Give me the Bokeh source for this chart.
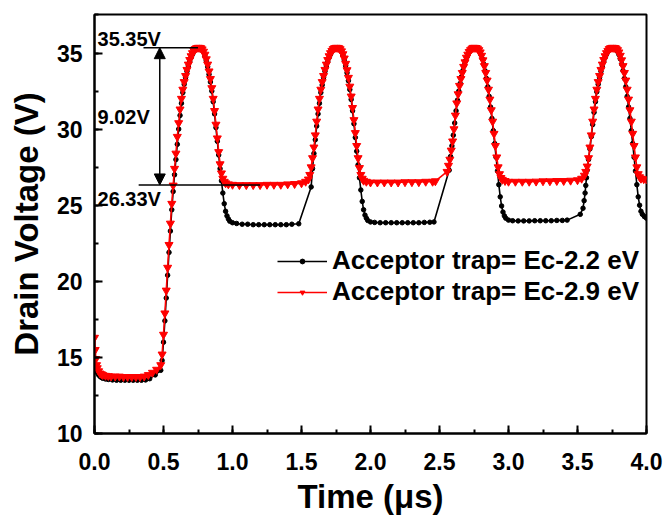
from bokeh.plotting import figure
from bokeh.models import (ColumnDataSource, Legend, LegendItem, SingleIntervalTicker,
                          Range1d, Arrow, NormalHead, PrintfTickFormatter)
from bokeh.core.properties import value
from bokeh.embed import file_html
from bokeh.resources import INLINE

# ---- data: Acceptor trap = Ec-2.9 eV (red) ----
t_red = [0.000, 0.005, 0.010, 0.015, 0.020, 0.030, 0.040, 0.050, 0.060, 0.080, 0.100, 0.120,
         0.150, 0.180, 0.210, 0.240, 0.270, 0.300, 0.330, 0.360, 0.390, 0.420, 0.450, 0.480,
         0.490, 0.500, 0.510, 0.520, 0.530, 0.540, 0.550, 0.560, 0.570, 0.580, 0.590, 0.600,
         0.610, 0.620, 0.630, 0.640, 0.650, 0.660, 0.670, 0.680, 0.690, 0.700, 0.710, 0.720,
         0.730, 0.740, 0.750, 0.760,
         0.770, 0.780, 0.790, 0.800, 0.810, 0.820, 0.830, 0.840, 0.850, 0.860, 0.870, 0.880,
         0.890, 0.900, 0.910, 0.920, 0.930, 0.940, 0.950, 0.970, 1.000,
         1.050, 1.100, 1.150, 1.200, 1.250, 1.300, 1.350, 1.400, 1.450, 1.500, 1.530,
         1.550, 1.560, 1.570, 1.580, 1.590, 1.600, 1.610, 1.620, 1.630, 1.640, 1.650, 1.660,
         1.670, 1.680, 1.690, 1.700, 1.710, 1.720, 1.730, 1.740, 1.750, 1.760,
         1.770, 1.780, 1.790, 1.800, 1.810, 1.820, 1.830, 1.840, 1.850, 1.860, 1.870, 1.880,
         1.890, 1.900, 1.910, 1.920, 1.930, 1.940, 1.950, 1.970, 2.000,
         2.050, 2.100, 2.150, 2.200, 2.250, 2.300, 2.350, 2.400, 2.450, 2.470,
         2.555, 2.565, 2.575, 2.585, 2.595, 2.605, 2.615, 2.625, 2.635, 2.645, 2.655, 2.665,
         2.675, 2.685, 2.695, 2.705, 2.715, 2.725, 2.735, 2.745, 2.755,
         2.765, 2.775, 2.785, 2.795, 2.805, 2.815, 2.825, 2.835, 2.845, 2.855, 2.865, 2.875,
         2.885, 2.895, 2.905, 2.915, 2.925, 2.935, 2.945, 2.955, 2.975, 3.000,
         3.050, 3.100, 3.150, 3.200, 3.250, 3.300, 3.350, 3.400, 3.450, 3.500, 3.530, 3.550,
         3.560, 3.570, 3.580, 3.590, 3.600, 3.610, 3.620, 3.630, 3.640, 3.650, 3.660, 3.670,
         3.680, 3.690, 3.700, 3.710, 3.720, 3.730, 3.740, 3.750, 3.760,
         3.770, 3.780, 3.790, 3.800, 3.810, 3.820, 3.830, 3.840, 3.850, 3.860, 3.870, 3.880,
         3.890, 3.900, 3.910, 3.920, 3.930, 3.940, 3.950, 3.960, 3.980, 4.000]
v_red = [16.3, 15.5, 14.9, 14.5, 14.3, 14.1, 13.95, 13.9, 13.85, 13.8, 13.78, 13.75,
         13.75, 13.75, 13.72, 13.72, 13.72, 13.72, 13.72, 13.75, 13.85, 14.0, 14.2, 14.5,
         15.2, 16.5, 17.9, 19.4, 20.9, 22.4, 23.8, 25.1, 26.3, 27.4, 28.4, 29.5,
         30.4, 31.3, 32.0, 32.6, 33.1, 33.5, 33.9, 34.25, 34.55, 34.8, 35.0, 35.15,
         35.27, 35.33, 35.35, 35.35,
         35.33, 35.25, 35.1, 34.9, 34.6, 34.25, 33.8, 33.3, 32.7, 32.0, 31.2, 30.3,
         29.4, 28.5, 27.7, 27.1, 26.75, 26.55, 26.45, 26.38, 26.35,
         26.33, 26.33, 26.33, 26.33, 26.35, 26.35, 26.35, 26.38, 26.4, 26.45, 26.55,
         26.7, 27.0, 27.5, 28.1, 28.8, 29.6, 30.5, 31.3, 32.0, 32.6, 33.1, 33.5,
         33.9, 34.25, 34.55, 34.8, 35.0, 35.15, 35.27, 35.33, 35.35, 35.35,
         35.33, 35.26, 35.12, 34.93, 34.65, 34.3, 33.88, 33.38, 32.8, 32.15, 31.4, 30.6,
         29.75, 28.9, 28.1, 27.45, 27.0, 26.75, 26.62, 26.55, 26.5,
         26.5, 26.5, 26.5, 26.5, 26.52, 26.52, 26.52, 26.55, 26.55, 26.58,
         27.2, 27.6, 28.0, 28.6, 29.2, 30.0, 30.9, 31.7, 32.3, 32.85, 33.3, 33.7,
         34.1, 34.4, 34.7, 34.9, 35.08, 35.2, 35.3, 35.35, 35.35,
         35.34, 35.3, 35.2, 35.05, 34.83, 34.53, 34.15, 33.7, 33.2, 32.6, 31.95, 31.25,
         30.5, 29.7, 28.9, 28.15, 27.5, 27.05, 26.8, 26.68, 26.6, 26.55,
         26.55, 26.55, 26.55, 26.56, 26.58, 26.58, 26.6, 26.6, 26.62, 26.65, 26.75, 26.95,
         27.2, 27.55, 28.1, 28.8, 29.6, 30.5, 31.3, 32.0, 32.6, 33.1, 33.5, 33.9,
         34.25, 34.55, 34.8, 35.0, 35.15, 35.27, 35.33, 35.35, 35.35,
         35.34, 35.3, 35.2, 35.05, 34.83, 34.53, 34.15, 33.7, 33.2, 32.6, 31.95, 31.25,
         30.5, 29.7, 28.9, 28.15, 27.5, 27.05, 26.85, 26.75, 26.72, 26.7]

# ---- data: Acceptor trap = Ec-2.2 eV (black) ----
t_black = [0.000, 0.005, 0.010, 0.015, 0.020, 0.030, 0.040, 0.050, 0.060, 0.080, 0.100, 0.130,
           0.160, 0.190, 0.220, 0.250, 0.280, 0.310, 0.340, 0.370, 0.400, 0.440, 0.480,
           0.490, 0.500, 0.510, 0.520, 0.530, 0.540, 0.550, 0.560, 0.570, 0.580, 0.590, 0.600,
           0.610, 0.620, 0.630, 0.640, 0.650, 0.660, 0.670, 0.680, 0.690, 0.700, 0.710, 0.720,
           0.730, 0.740, 0.750, 0.760,
           0.770, 0.780, 0.790, 0.800, 0.810, 0.820, 0.830, 0.840, 0.850, 0.860, 0.870, 0.880,
           0.890, 0.900, 0.910, 0.920, 0.930, 0.940, 0.950, 0.960, 0.970, 0.980, 1.000, 1.030,
           1.070, 1.110, 1.150, 1.190, 1.230, 1.270, 1.310, 1.350, 1.390, 1.430, 1.480,
           1.570, 1.580, 1.590, 1.600, 1.610, 1.620, 1.630, 1.640, 1.650, 1.660, 1.670, 1.680,
           1.690, 1.700, 1.710, 1.720, 1.730, 1.740, 1.750, 1.760,
           1.770, 1.780, 1.790, 1.800, 1.810, 1.820, 1.830, 1.840, 1.850, 1.860, 1.870, 1.880,
           1.890, 1.900, 1.910, 1.920, 1.930, 1.940, 1.950, 1.960, 1.970, 1.980, 2.000, 2.030,
           2.070, 2.110, 2.150, 2.190, 2.230, 2.270, 2.310, 2.350, 2.390, 2.430, 2.460,
           2.570, 2.580, 2.590, 2.600, 2.610, 2.620, 2.630, 2.640, 2.650, 2.660, 2.670, 2.680,
           2.690, 2.700, 2.710, 2.720, 2.730, 2.740, 2.750, 2.760,
           2.770, 2.780, 2.790, 2.800, 2.810, 2.820, 2.830, 2.840, 2.850, 2.860, 2.870, 2.880,
           2.890, 2.900, 2.910, 2.920, 2.930, 2.940, 2.950, 2.960, 2.970, 2.980, 3.000, 3.030,
           3.070, 3.110, 3.150, 3.190, 3.230, 3.270, 3.310, 3.350, 3.390, 3.425,
           3.520, 3.540, 3.548, 3.555, 3.560, 3.565, 3.570,
           3.580, 3.590, 3.600, 3.610, 3.620, 3.630, 3.640, 3.650, 3.660, 3.670, 3.680, 3.690,
           3.700, 3.710, 3.720, 3.730, 3.740, 3.750, 3.760,
           3.770, 3.780, 3.790, 3.800, 3.810, 3.820, 3.830, 3.840, 3.850, 3.860, 3.870, 3.880,
           3.890, 3.900, 3.910, 3.920, 3.930, 3.940, 3.950, 3.960, 3.970, 3.985, 4.000]
v_black = [14.8, 14.5, 14.25, 14.1, 14.0, 13.85, 13.75, 13.68, 13.63, 13.58, 13.55, 13.52,
           13.5, 13.5, 13.5, 13.5, 13.5, 13.5, 13.5, 13.52, 13.6, 13.85, 14.15,
           14.8, 16.0, 17.4, 18.9, 20.4, 21.9, 23.3, 24.7, 25.9, 27.0, 28.0, 29.0,
           30.0, 30.9, 31.7, 32.4, 32.95, 33.4, 33.8, 34.15, 34.45, 34.7, 34.9, 35.1,
           35.22, 35.3, 35.35, 35.35,
           35.3, 35.2, 35.05, 34.8, 34.5, 34.1, 33.6, 33.1, 32.5, 31.8, 31.0, 30.1,
           29.2, 28.3, 27.4, 26.6, 25.8, 25.1, 24.6, 24.3, 24.1, 23.95, 23.85, 23.8,
           23.75, 23.75, 23.72, 23.72, 23.72, 23.72, 23.72, 23.72, 23.72, 23.75, 23.78,
           26.2, 27.4, 28.4, 29.3, 30.2, 31.0, 31.7, 32.4, 32.9, 33.4, 33.8, 34.15,
           34.45, 34.7, 34.9, 35.1, 35.22, 35.3, 35.35, 35.35,
           35.3, 35.22, 35.08, 34.85, 34.55, 34.17, 33.7, 33.18, 32.6, 31.95, 31.2, 30.35,
           29.45, 28.55, 27.65, 26.8, 26.0, 25.25, 24.7, 24.35, 24.15, 24.0, 23.9, 23.87,
           23.85, 23.85, 23.85, 23.85, 23.85, 23.85, 23.85, 23.85, 23.87, 23.88, 23.9,
           27.3, 28.2, 28.9, 29.6, 30.4, 31.2, 31.9, 32.5, 33.0, 33.45, 33.85, 34.2,
           34.5, 34.75, 34.95, 35.12, 35.24, 35.32, 35.35, 35.34,
           35.3, 35.22, 35.1, 34.9, 34.62, 34.27, 33.83, 33.33, 32.78, 32.15, 31.45, 30.7,
           29.9, 29.05, 28.15, 27.25, 26.35, 25.55, 24.95, 24.55, 24.3, 24.15, 24.02, 23.98,
           23.97, 23.97, 23.97, 23.98, 23.98, 23.98, 23.98, 24.0, 24.0, 24.02,
           24.4, 24.8, 25.3, 25.8, 26.3, 26.8, 27.3,
           28.0, 28.7, 29.5, 30.3, 31.1, 31.8, 32.45, 32.95, 33.4, 33.8, 34.15, 34.45,
           34.7, 34.9, 35.1, 35.22, 35.3, 35.35, 35.35,
           35.3, 35.22, 35.1, 34.9, 34.62, 34.27, 33.83, 33.33, 32.78, 32.15, 31.45, 30.7,
           29.9, 29.05, 28.15, 27.25, 26.35, 25.55, 25.0, 24.6, 24.4, 24.25, 24.15]

series_labels = ["Acceptor trap= Ec-2.2 eV", "Acceptor trap= Ec-2.9 eV"]
annot_levels = [35.35, 26.33]   # peak and plateau voltage (V)
annot_time = 0.473              # time of the double arrow (us)
x_ticks_interval = 0.5
y_ticks_interval = 5

FONT = "Liberation Sans"

p = figure(width=665, height=519, output_backend="svg", toolbar_location=None,
           x_range=Range1d(0, 4), y_range=Range1d(10, 37.53),
           min_border_left=94, min_border_right=19, min_border_top=14, min_border_bottom=86,
           title=None, background_fill_color="white", border_fill_color="white")

p.grid.visible = False
p.outline_line_color = "black"
p.outline_line_width = 2

p.xaxis.ticker = SingleIntervalTicker(interval=x_ticks_interval, num_minor_ticks=2)
p.yaxis.ticker = SingleIntervalTicker(interval=y_ticks_interval, num_minor_ticks=2)
p.xaxis.formatter = PrintfTickFormatter(format="%.1f")

for ax in (p.xaxis[0], p.yaxis[0]):
    ax.axis_line_width = 2
    ax.axis_line_color = "black"
    ax.major_tick_line_width = 2
    ax.minor_tick_line_width = 2
    ax.major_tick_line_color = "black"
    ax.minor_tick_line_color = "black"
    ax.major_tick_in = 8
    ax.major_tick_out = 0
    ax.minor_tick_in = 4
    ax.minor_tick_out = 0
    ax.major_label_text_font = FONT
    ax.major_label_text_font_style = "bold"
    ax.major_label_text_font_size = "23px"
    ax.major_label_text_color = "black"
    ax.axis_label_text_font = FONT
    ax.axis_label_text_font_style = "bold"
    ax.axis_label_text_font_size = "33px"
    ax.axis_label_text_color = "black"

p.xaxis.major_label_standoff = 19
p.yaxis.major_label_standoff = 12
p.xaxis.axis_label = "Time (\u03bcs)"
p.xaxis.axis_label_standoff = 5
p.yaxis.axis_label = "Drain Voltage (V)"
p.yaxis.axis_label_standoff = 9

src_black = ColumnDataSource(dict(t=t_black, v=v_black))
src_red = ColumnDataSource(dict(t=t_red, v=v_red))

lb = p.line("t", "v", source=src_black, line_color="black", line_width=1.6)
sb = p.scatter("t", "v", source=src_black, marker="circle", size=4.5,
               fill_color="black", line_color="black")
lr = p.line("t", "v", source=src_red, line_color="red", line_width=1.6)
sr = p.scatter("t", "v", source=src_red, marker="inverted_triangle", size=8,
               fill_color="red", line_color="red")

# annotation lines
p.segment(x0=[0.355, 0.32], y0=annot_levels, x1=[0.75, 1.2], y1=annot_levels,
          line_color="black", line_width=1.5)
p.add_layout(Arrow(start=NormalHead(size=11, fill_color="black", line_color="black"),
                   end=NormalHead(size=11, fill_color="black", line_color="black"),
                   x_start=annot_time, y_start=annot_levels[1],
                   x_end=annot_time, y_end=annot_levels[0],
                   line_color="black", line_width=1.5))

ann_text = [f"{annot_levels[0]:.2f}V", f"{annot_levels[0]-annot_levels[1]:.2f}V",
            f"{annot_levels[1]:.2f}V"]
ann_y = [35.95, 30.78, 25.44]
p.text(x=[0.022, 0.022, 0.022], y=ann_y, text=ann_text, text_align="left",
       text_baseline="middle", text_font=value(FONT), text_font_style="bold",
       text_font_size="20px", text_color="black")

legend = Legend(items=[LegendItem(label=series_labels[0], renderers=[lb, sb]),
                       LegendItem(label=series_labels[1], renderers=[lr, sr])],
                location=(183, 126), orientation="vertical",
                label_text_font=FONT, label_text_font_style="bold",
                label_text_font_size="26px", label_text_color="black",
                glyph_width=50, glyph_height=12, label_height=28, label_standoff=5,
                spacing=0, padding=0, margin=0,
                border_line_color=None, background_fill_alpha=0)
p.add_layout(legend)

open("out.html", "w").write(file_html(p, INLINE))
